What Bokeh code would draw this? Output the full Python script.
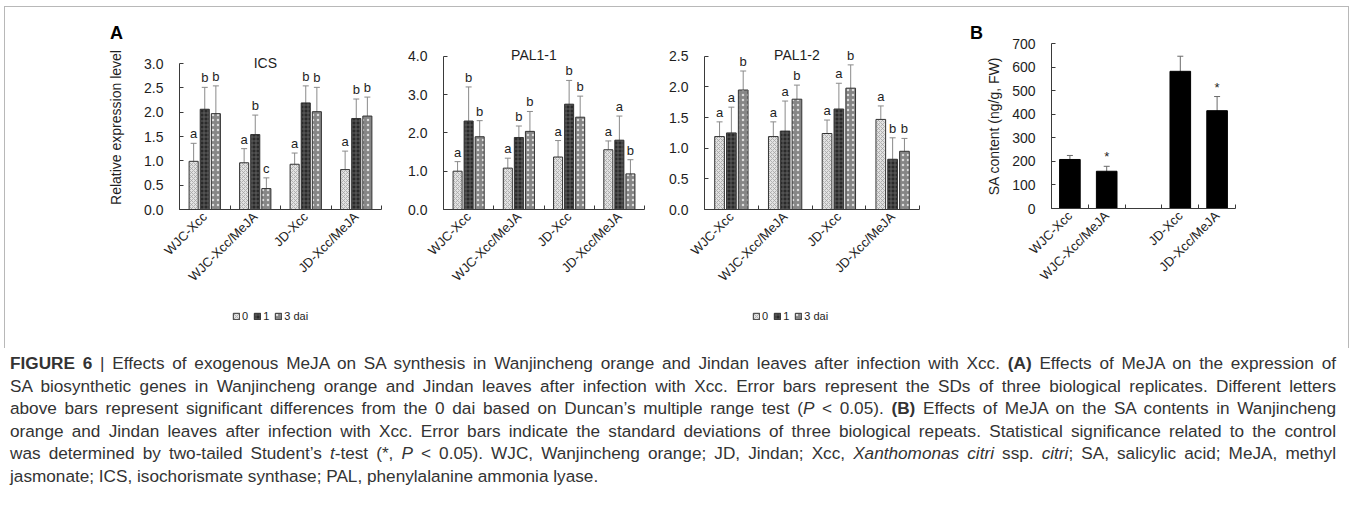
import math
import numpy as np
from bokeh.plotting import figure
from bokeh.models import (ColumnDataSource, Range1d, FixedTicker, NumeralTickFormatter,
                          Whisker, TeeHead, LabelSet, Label, Legend, LegendItem, Div, Spacer)
from bokeh.layouts import row, column
from bokeh.core.properties import value
from bokeh.embed import file_html
from bokeh.resources import INLINE

# ---------------- data ----------------
categories = ["WJC-Xcc", "WJC-Xcc/MeJA", "JD-Xcc", "JD-Xcc/MeJA"]
days = ["0", "1", "3 dai"]

ics_ticks = [0.0, 0.5, 1.0, 1.5, 2.0, 2.5, 3.0]
ics_mean_0 = [0.99, 0.96, 0.93, 0.82]
ics_mean_1 = [2.06, 1.54, 2.19, 1.87]
ics_mean_3 = [1.97, 0.43, 2.01, 1.92]
ics_sd_0 = [0.37, 0.29, 0.23, 0.38]
ics_sd_1 = [0.45, 0.40, 0.35, 0.40]
ics_sd_3 = [0.57, 0.22, 0.50, 0.39]
ics_let_0 = ["a", "a", "a", "a"]
ics_let_1 = ["b", "b", "b", "b"]
ics_let_3 = ["b", "c", "b", "b"]

pal11_ticks = [0.0, 1.0, 2.0, 3.0, 4.0]
pal11_mean_0 = [1.00, 1.08, 1.37, 1.56]
pal11_mean_1 = [2.31, 1.88, 2.75, 1.81]
pal11_mean_3 = [1.90, 2.04, 2.41, 0.93]
pal11_sd_0 = [0.25, 0.26, 0.43, 0.23]
pal11_sd_1 = [0.89, 0.30, 0.62, 0.63]
pal11_sd_3 = [0.42, 0.52, 0.55, 0.37]
pal11_let_0 = ["a", "a", "a", "a"]
pal11_let_1 = ["b", "b", "b", "a"]
pal11_let_3 = ["b", "b", "b", "b"]

pal12_ticks = [0.0, 0.5, 1.0, 1.5, 2.0, 2.5]
pal12_mean_0 = [1.19, 1.19, 1.24, 1.47]
pal12_mean_1 = [1.25, 1.28, 1.64, 0.82]
pal12_mean_3 = [1.95, 1.80, 1.98, 0.95]
pal12_sd_0 = [0.24, 0.24, 0.22, 0.22]
pal12_sd_1 = [0.42, 0.49, 0.42, 0.35]
pal12_sd_3 = [0.31, 0.23, 0.38, 0.21]
pal12_let_0 = ["a", "a", "a", "a"]
pal12_let_1 = ["a", "a", "a", "b"]
pal12_let_3 = ["b", "b", "b", "b"]

sa_categories = ["WJC-Xcc", "WJC-Xcc/MeJA", "", "JD-Xcc", "JD-Xcc/MeJA"]
sa_mean = [208, 158, None, 582, 415]
sa_sd = [17, 21, None, 64, 60]
sa_sig = ["", "*", "", "", "*"]
sa_ticks = [0, 100, 200, 300, 400, 500, 600, 700]

# ---------------- style ----------------
FONT = "Liberation Sans"
TXT = "#1e1e1e"
AXC = "#3a3a3a"
OFFS = [-0.22, 0.0, 0.22]
BAR_W = 0.18
FILLS = ["#e2e2e2", "#2a2a2a", "#868686"]
HATCH = ["x", "+", "."]
HATCH_C = ["#a4a4a4", "#6a6a6a", "#dcdcdc"]
HATCH_S = [4, 4, 5]
ERR_C = "#8a8a8a"


def bar_style(k):
    return dict(fill_color=FILLS[k], line_color="#333333", line_width=1, hatch_pattern=HATCH[k],
                hatch_color=HATCH_C[k], hatch_scale=HATCH_S[k], hatch_weight=0.8)


def base_fig(width, height, bottom, ymax, axis_top, frame_top, mbl, mbr, nslots):
    # frame may extend above the top tick so that the in-frame panel title is visible
    yend = ymax * (bottom - frame_top) / (bottom - axis_top)
    p = figure(width=width, height=height, x_range=Range1d(0, nslots), y_range=Range1d(0, yend),
               output_backend="svg", toolbar_location=None,
               min_border_left=mbl, min_border_right=mbr, min_border_top=frame_top,
               min_border_bottom=height - bottom)
    p.title = None
    p.xgrid.visible = False
    p.ygrid.visible = False
    p.outline_line_color = None
    p.background_fill_color = "white"
    p.border_fill_color = "white"
    for ax in (p.xaxis[0], p.yaxis[0]):
        ax.axis_line_color = AXC
        ax.major_tick_line_color = AXC
        ax.minor_tick_line_color = AXC
        ax.major_label_text_font = FONT
        ax.major_label_text_font_size = "14px"
        ax.major_label_text_color = TXT
        ax.axis_label_text_font = FONT
        ax.axis_label_text_font_size = "14px"
        ax.axis_label_text_font_style = "normal"
        ax.axis_label_text_color = TXT
    p.yaxis[0].bounds = (0, ymax)
    return p


def set_xaxis(p, cats):
    centers = [i + 0.5 for i, c in enumerate(cats) if c]
    xa = p.xaxis[0]
    xa.ticker = FixedTicker(ticks=centers, minor_ticks=list(range(len(cats) + 1)))
    xa.major_label_overrides = {i + 0.5: c for i, c in enumerate(cats) if c}
    xa.major_tick_in = 0
    xa.major_tick_out = 0
    xa.minor_tick_in = 4
    xa.minor_tick_out = 0
    xa.major_label_orientation = math.pi / 4
    xa.major_label_standoff = 5
    xa.major_label_text_font_size = "13px"


def set_yaxis(p, ticks, fmt, standoff, label=None, label_standoff=10):
    ya = p.yaxis[0]
    ya.ticker = FixedTicker(ticks=ticks)
    ya.formatter = NumeralTickFormatter(format=fmt)
    ya.major_tick_in = 4
    ya.major_tick_out = 0
    ya.minor_tick_line_color = None
    ya.major_label_standoff = standoff
    if label:
        ya.axis_label = label
        ya.axis_label_standoff = label_standoff


HF = 262      # height of the three expression panels
BOT = 167     # their frame bottom (px from figure top)


def expr_panel(title, title_x, means, sds, lets, ticks, width, axis_top, frame_top, mbl, mbr,
               ylabel=None):
    ymax = ticks[-1]
    p = base_fig(width, HF, BOT, ymax, axis_top, frame_top, mbl, mbr, len(categories))
    set_xaxis(p, categories)
    set_yaxis(p, ticks, "0.0", 16, ylabel, 17)
    for k in range(3):
        m = np.array(means[k], dtype=float)
        s = np.array(sds[k], dtype=float)
        src = ColumnDataSource(dict(x=np.arange(len(categories)) + 0.5 + OFFS[k], top=m,
                                    upper=m + s, lower=m - s, let=lets[k]))
        p.vbar(x="x", top="top", width=BAR_W, source=src, **bar_style(k))
        p.add_layout(Whisker(source=src, base="x", upper="upper", lower="lower",
                             line_color=ERR_C, line_width=1,
                             upper_head=TeeHead(size=6, line_color=ERR_C, line_width=1),
                             lower_head=TeeHead(size=6, line_color=ERR_C, line_width=1)))
        p.add_layout(LabelSet(source=src, x="x", y="upper", text="let", text_align="center",
                              text_baseline="bottom", y_offset=2, text_font=value(FONT),
                              text_font_size="13px", text_color=TXT))
    p.add_layout(Label(x=title_x, y=ymax, text=title, text_align="center", text_baseline="middle",
                       y_offset=1, text_font=FONT, text_font_size="14px", text_color=TXT))
    return p


def legend_fig(width, height, means):
    lf = figure(width=width, height=height, x_range=Range1d(0, 1), y_range=Range1d(0, 1),
                x_axis_type=None, y_axis_type=None, output_backend="svg",
                toolbar_location=None, min_border=0)
    lf.title = None
    lf.outline_line_color = None
    lf.border_fill_color = "white"
    lf.background_fill_color = "white"
    rends = []
    for k in range(3):
        src = ColumnDataSource(dict(x=np.arange(len(categories)) + 0.5 + OFFS[k], top=means[k]))
        r = lf.vbar(x="x", top="top", width=BAR_W, source=src, **bar_style(k))
        r.visible = False          # only its swatch is shown, in the legend
        rends.append(r)
    leg = Legend(items=[LegendItem(label=d, renderers=[r]) for d, r in zip(days, rends)],
                 orientation="horizontal", location="top_left", glyph_width=8, glyph_height=8,
                 label_text_font=FONT, label_text_font_size="11px", label_text_color=TXT,
                 label_standoff=2, spacing=5, padding=0, margin=0, border_line_color=None,
                 background_fill_alpha=0, label_height=12, label_width=1,
                 inactive_fill_alpha=0)
    lf.add_layout(leg, "center")
    return lf


# panel geometry: axis top / frame top are px from the figure top
p1 = expr_panel("ICS", 1.70, [ics_mean_0, ics_mean_1, ics_mean_3], [ics_sd_0, ics_sd_1, ics_sd_3],
                [ics_let_0, ics_let_1, ics_let_3], ics_ticks, 390, 21, 3, 174, 14,
                ylabel="Relative expression level")
p2 = expr_panel("PAL1-1", 1.80, [pal11_mean_0, pal11_mean_1, pal11_mean_3],
                [pal11_sd_0, pal11_sd_1, pal11_sd_3], [pal11_let_0, pal11_let_1, pal11_let_3],
                pal11_ticks, 265, 11, 0, 48, 16)
p3 = expr_panel("PAL1-2", 1.72, [pal12_mean_0, pal12_mean_1, pal12_mean_3],
                [pal12_sd_0, pal12_sd_1, pal12_sd_3], [pal12_let_0, pal12_let_1, pal12_let_3],
                pal12_ticks, 275, 11, 0, 44, 16)

# panel B (starts at the top of the framed area)
HB = 297
p4 = base_fig(365, HB, 201, sa_ticks[-1], 36, 36, 63, 113, len(sa_categories))
set_xaxis(p4, sa_categories)
set_yaxis(p4, sa_ticks, "0", 16, "SA content (ng/g, FW)", 7)
idx = [i for i, m in enumerate(sa_mean) if m is not None]
sm = np.array([sa_mean[i] for i in idx], dtype=float)
ss = np.array([sa_sd[i] for i in idx], dtype=float)
srcB = ColumnDataSource(dict(x=np.array(idx) + 0.5, top=sm, upper=sm + ss, lower=sm - ss,
                             sig=[sa_sig[i] for i in idx]))
p4.vbar(x="x", top="top", width=0.56, source=srcB, fill_color="#000000", line_color="#000000")
p4.add_layout(Whisker(source=srcB, base="x", upper="upper", lower="lower", line_color="#6a6a6a",
                      upper_head=TeeHead(size=6, line_color="#6a6a6a"),
                      lower_head=TeeHead(size=6, line_color="#6a6a6a")))
p4.add_layout(LabelSet(source=srcB, x="x", y="upper", text="sig", text_align="center",
                       text_baseline="bottom", y_offset=2, text_font=value(FONT),
                       text_font_size="13px", text_color=TXT))


def letter_div(t, width, pad_left):
    return Div(text='<div style="font-family:\'Liberation Sans\';font-size:18px;font-weight:bold;'
                    'line-height:20px;padding-top:16px;padding-left:%dpx;color:#000;">%s</div>' % (pad_left, t),
               width=width, height=35, margin=0)


strip = row(Spacer(width=105, height=35), letter_div("A", 20, 0), spacing=0)
left_block = column(strip, row(p1, p2, p3, spacing=0), spacing=0)
figs = row(left_block, letter_div("B", 48, 35), p4, spacing=0)
legs = row(Spacer(width=227, height=16), legend_fig(90, 16, [ics_mean_0, ics_mean_1, ics_mean_3]),
           Spacer(width=430, height=16),
           legend_fig(90, 16, [pal12_mean_0, pal12_mean_1, pal12_mean_3]), spacing=0)

charts = column(figs, Spacer(height=6), legs, Spacer(height=22), spacing=0,
                styles={"border-top": "1px solid #b8b8b8", "border-left": "1px solid #b8b8b8",
                        "border-right": "1px solid #b8b8b8"})

cap_lines = [
    "<b>FIGURE 6</b> | Effects of exogenous MeJA on SA synthesis in Wanjincheng orange and Jindan leaves after infection with Xcc. <b>(A)</b> Effects of MeJA on the expression of",
    "SA biosynthetic genes in Wanjincheng orange and Jindan leaves after infection with Xcc. Error bars represent the SDs of three biological replicates. Different letters",
    "above bars represent significant differences from the 0 dai based on Duncan\u2019s multiple range test (<i>P</i> &lt; 0.05). <b>(B)</b> Effects of MeJA on the SA contents in Wanjincheng",
    "orange and Jindan leaves after infection with Xcc. Error bars indicate the standard deviations of three biological repeats. Statistical significance related to the control",
    "was determined by two-tailed Student\u2019s <i>t</i>-test (*, <i>P</i> &lt; 0.05). WJC, Wanjincheng orange; JD, Jindan; Xcc, <i>Xanthomonas citri</i> ssp. <i>citri</i>; SA, salicylic acid; MeJA, methyl",
    "jasmonate; ICS, isochorismate synthase; PAL, phenylalanine ammonia lyase.",
]
html = "".join(
    '<div style="text-align:justify;text-align-last:%s;">%s</div>' % ("justify" if i < len(cap_lines) - 1 else "left", t)
    for i, t in enumerate(cap_lines))
caption = Div(text='<div style="font-family:\'Liberation Sans\';font-size:17.2px;line-height:22.6px;color:#333333;width:1326px;">%s</div>' % html,
              width=1326, height=140, margin=0)

layout = column(Spacer(height=6),
                row(Spacer(width=4), charts, spacing=0),
                Spacer(height=4),
                row(Spacer(width=10), caption, spacing=0),
                spacing=0)

open("out.html", "w").write(file_html(layout, INLINE))
